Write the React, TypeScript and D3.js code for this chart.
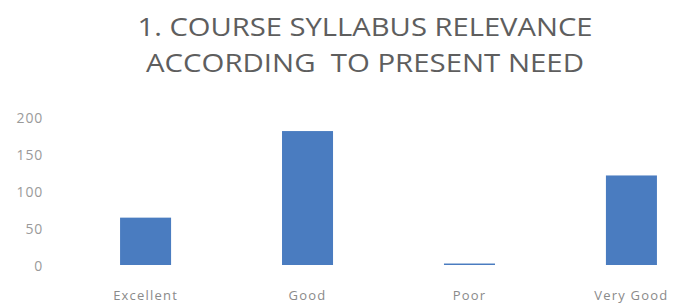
import React, { useEffect, useRef } from "react";
import * as d3 from "d3";

const categories = ["Excellent", "Good", "Poor", "Very Good"];
const values = [64, 181, 2, 121];
const yTicks = [0, 50, 100, 150, 200];
const titleLines = ["1. COURSE SYLLABUS RELEVANCE", "ACCORDING  TO PRESENT NEED"];

export default function App() {
  const ref = useRef<SVGSVGElement>(null);

  useEffect(() => {
    const svg = d3.select(ref.current);
    svg.selectAll("*").remove();

    const x = d3.scaleBand().domain(categories).range([65, 712]).paddingInner(0.685).paddingOuter(0.34);
    const y = d3.scaleLinear().domain([0, 200]).range([265, 117]);

    svg.selectAll(".title")
      .data(titleLines)
      .enter()
      .append("text")
      .attr("class", "title")
      .attr("x", 365)
      .attr("y", (d, i) => 36 + i * 36)
      .attr("text-anchor", "middle")
      .attr("font-family", "Open Sans")
      .attr("font-size", 25)
      .attr("fill", "#5e5e5e")
      .attr("textLength", (d, i) => (i === 0 ? 455 : 438))
      .attr("lengthAdjust", "spacingAndGlyphs")
      .style("white-space", "pre")
      .text(d => d);

    svg.selectAll(".ytick")
      .data(yTicks)
      .enter()
      .append("text")
      .attr("class", "ytick")
      .attr("x", 43)
      .attr("y", d => y(d) + 6)
      .attr("text-anchor", "end")
      .attr("font-family", "Open Sans")
      .attr("font-size", 14)
      .attr("letter-spacing", 0.8)
      .attr("fill", "#9a9a9a")
      .text(d => d);

    svg.selectAll(".bar")
      .data(values)
      .enter()
      .append("rect")
      .attr("class", "bar")
      .attr("x", (d, i) => x(categories[i])!)
      .attr("y", d => y(d))
      .attr("width", x.bandwidth())
      .attr("height", d => y(0) - y(d))
      .attr("fill", "#4a7cc0");

    svg.selectAll(".xlab")
      .data(categories)
      .enter()
      .append("text")
      .attr("class", "xlab")
      .attr("x", d => x(d)! + x.bandwidth() / 2)
      .attr("y", 300)
      .attr("text-anchor", "middle")
      .attr("font-family", "Open Sans")
      .attr("font-size", 13)
      .attr("letter-spacing", 1.2)
      .attr("fill", "#8a8a8a")
      .text(d => d);
  }, []);

  return (
    <svg ref={ref} width={677} height={306} style={{ position: "absolute", left: 0, top: 0, background: "#fff" }} />
  );
}
